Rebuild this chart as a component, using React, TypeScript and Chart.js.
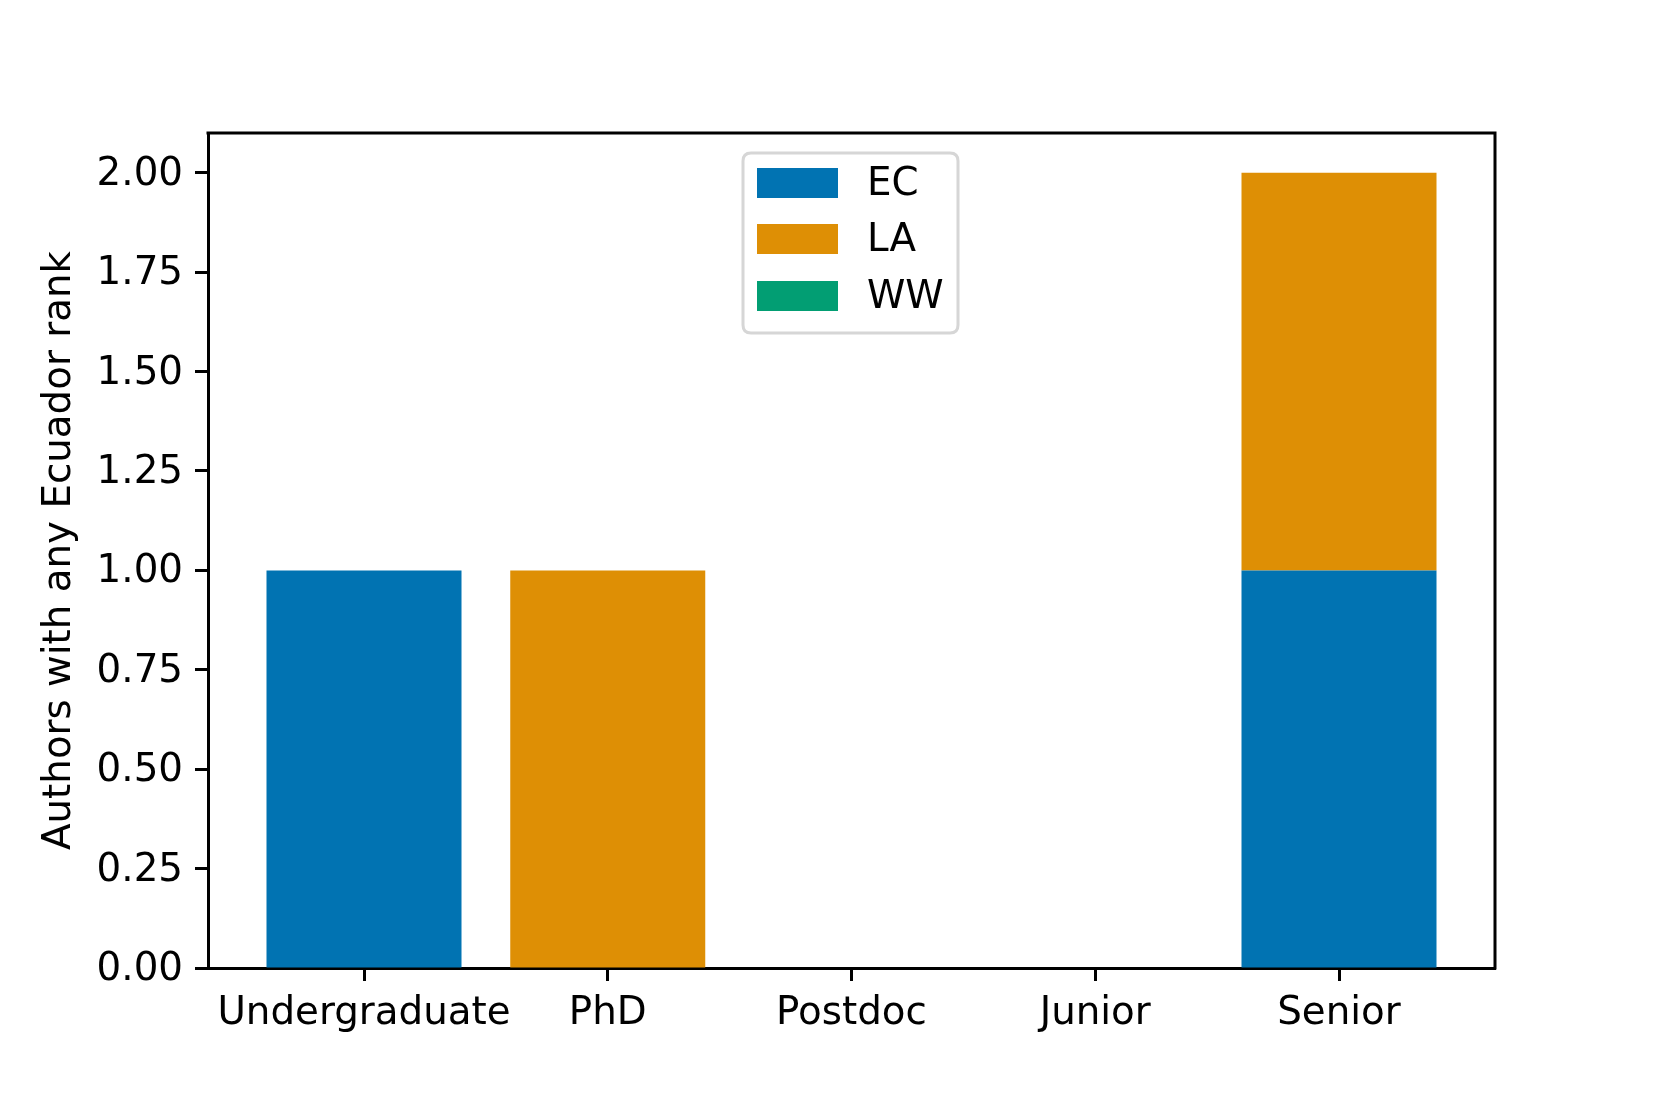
import React, { useEffect, useRef } from "react";
import { Chart, registerables } from "chart.js";

Chart.register(...registerables);

const categories = ["Undergraduate", "PhD", "Postdoc", "Junior", "Senior"];
const ecValues = [1, 0, 0, 0, 1];
const laValues = [0, 1, 0, 0, 1];
const wwValues = [0, 0, 0, 0, 0];
const yTicks = [0, 0.25, 0.5, 0.75, 1.0, 1.25, 1.5, 1.75, 2.0];
const seriesNames = ["EC", "LA", "WW"];
const seriesColors = ["#0173b2", "#de8f05", "#029e73"];

const FONT = "'DejaVu Sans', sans-serif";
const FS = 38.8;

const framePlugin = {
  id: "frame",
  afterDraw(chart: any) {
    const { ctx, chartArea } = chart;
    const { left, right, top, bottom } = chartArea;
    ctx.save();
    ctx.strokeStyle = "#000";
    ctx.lineWidth = 3;
    ctx.beginPath();
    ctx.moveTo(left - 1.5, top);
    ctx.lineTo(right, top);
    ctx.lineTo(right, bottom + 1.5);
    ctx.stroke();

    // legend
    const bx = 743, by = 153, bw = 215, bh = 180, r = 8;
    ctx.fillStyle = "rgba(255,255,255,0.8)";
    ctx.strokeStyle = "#d6d6d6";
    ctx.lineWidth = 3;
    ctx.beginPath();
    ctx.moveTo(bx + r, by);
    ctx.lineTo(bx + bw - r, by);
    ctx.quadraticCurveTo(bx + bw, by, bx + bw, by + r);
    ctx.lineTo(bx + bw, by + bh - r);
    ctx.quadraticCurveTo(bx + bw, by + bh, bx + bw - r, by + bh);
    ctx.lineTo(bx + r, by + bh);
    ctx.quadraticCurveTo(bx, by + bh, bx, by + bh - r);
    ctx.lineTo(bx, by + r);
    ctx.quadraticCurveTo(bx, by, bx + r, by);
    ctx.closePath();
    ctx.fill();
    ctx.stroke();
    const rows = [168, 224, 281];
    ctx.font = `${FS}px ${FONT}`;
    ctx.textBaseline = "middle";
    ctx.textAlign = "left";
    seriesNames.forEach((name, i) => {
      ctx.fillStyle = seriesColors[i];
      ctx.fillRect(757, rows[i], 81, 30);
      ctx.fillStyle = "#000";
      ctx.fillText(name, 867, rows[i] + 17);
    });
    ctx.restore();
  },
};

export default function App() {
  const ref = useRef<HTMLCanvasElement | null>(null);
  useEffect(() => {
    document.body.style.margin = "0";
    const canvas = ref.current!;
    const mk = (vals: number[]) => vals.map((v, i) => ({ x: i, y: v }));
    const chart = new Chart(canvas, {
      type: "bar",
      data: {
        datasets: [
          { label: seriesNames[0], data: mk(ecValues), backgroundColor: seriesColors[0] },
          { label: seriesNames[1], data: mk(laValues), backgroundColor: seriesColors[1] },
          { label: seriesNames[2], data: mk(wwValues), backgroundColor: seriesColors[2] },
        ],
      },
      options: {
        animation: false,
        responsive: false,
        devicePixelRatio: 1,
        datasets: { bar: { categoryPercentage: 1, barPercentage: 0.8, borderWidth: 0 } },
        layout: { padding: { left: 0, top: 133, right: 166, bottom: 0 } },
        plugins: { legend: { display: false }, tooltip: { enabled: false } },
        scales: {
          x: {
            type: "linear",
            stacked: true,
            offset: false,
            min: -0.64,
            max: 4.64,
            afterBuildTicks: (s: any) => {
              s.ticks = categories.map((_, i) => ({ value: i }));
            },
            afterFit: (s: any) => {
              s.height = 1107 - 968;
            },
            grid: { offset: false, drawOnChartArea: false, drawTicks: true, tickLength: 13, tickWidth: 3, color: "#000" },
            border: { color: "#000", width: 3 },
            ticks: {
              autoSkip: false,
              maxRotation: 0,
              padding: 10,
              color: "#000",
              font: { family: FONT, size: FS },
              callback: (v: any) => categories[Math.round(Number(v))] ?? "",
            },
          },
          y: {
            stacked: true,
            min: 0,
            max: 2.1,
            afterBuildTicks: (s: any) => {
              s.ticks = yTicks.map((v) => ({ value: v }));
            },
            afterFit: (s: any) => {
              s.width = 208;
            },
            grid: { drawOnChartArea: false, drawTicks: true, tickLength: 13, tickWidth: 3, color: "#000" },
            border: { color: "#000", width: 3 },
            ticks: {
              padding: 12,
              labelOffset: 2,
              color: "#000",
              font: { family: FONT, size: FS },
              callback: (v: any) => Number(v).toFixed(2),
            },
            title: {
              display: true,
              text: "Authors with any Ecuador rank",
              color: "#000",
              font: { family: FONT, size: FS },
              padding: { top: 37, bottom: 0 },
            },
          },
        },
      },
      plugins: [framePlugin],
    } as any);
    return () => chart.destroy();
  }, []);
  return (
    <div style={{ width: 1661, height: 1107, background: "#fff" }}>
      <canvas ref={ref} width={1661} height={1107} style={{ display: "block" }} />
    </div>
  );
}
